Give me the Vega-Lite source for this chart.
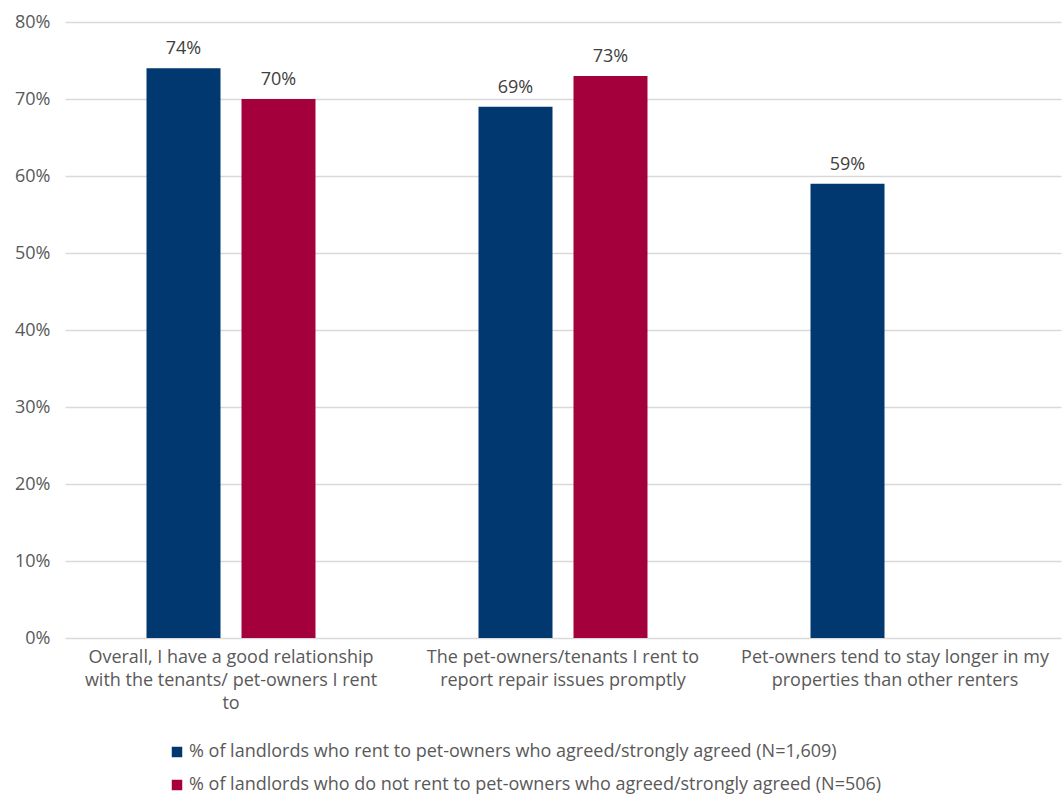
{
  "$schema": "https://vega.github.io/schema/vega-lite/v6.json",
  "width": 996,
  "height": 616,
  "autosize": {"type": "none"},
  "padding": {"left": 65, "top": 22, "right": 1, "bottom": 163},
  "background": "white",
  "config": {
    "view": {"stroke": null},
    "font": "Open Sans",
    "axis": {"labelFont": "Open Sans", "labelColor": "#595959"},
    "legend": {"labelFont": "Open Sans"}
  },
  "data": {
    "values": [
      {"statement": "Overall, I have a good relationship|with the tenants/ pet-owners I rent|to", "group": "% of landlords who rent to pet-owners who agreed/strongly agreed (N=1,609)", "value": 0.74},
      {"statement": "Overall, I have a good relationship|with the tenants/ pet-owners I rent|to", "group": "% of landlords who do not rent to pet-owners who agreed/strongly agreed (N=506)", "value": 0.70},
      {"statement": "The pet-owners/tenants I rent to|report repair issues promptly", "group": "% of landlords who rent to pet-owners who agreed/strongly agreed (N=1,609)", "value": 0.69},
      {"statement": "The pet-owners/tenants I rent to|report repair issues promptly", "group": "% of landlords who do not rent to pet-owners who agreed/strongly agreed (N=506)", "value": 0.73},
      {"statement": "Pet-owners tend to stay longer in my|properties than other renters", "group": "% of landlords who rent to pet-owners who agreed/strongly agreed (N=1,609)", "value": 0.59},
      {"statement": "Pet-owners tend to stay longer in my|properties than other renters", "group": "% of landlords who do not rent to pet-owners who agreed/strongly agreed (N=506)", "value": null}
    ]
  },
  "encoding": {
    "x": {
      "field": "statement",
      "type": "nominal",
      "sort": null,
      "scale": {"paddingInner": 0, "paddingOuter": 0},
      "axis": {
        "title": null,
        "labelAngle": 0,
        "labelExpr": "split(datum.label, '|')",
        "labelFontSize": 18,
        "labelLineHeight": 23,
        "labelPadding": 10,
        "labelLimit": 400,
        "domain": false,
        "ticks": false
      }
    },
    "xOffset": {
      "field": "group",
      "type": "nominal",
      "sort": null,
      "scale": {"paddingInner": 0.221, "paddingOuter": 0.858}
    },
    "y": {
      "field": "value",
      "type": "quantitative",
      "scale": {"domain": [0, 0.8]},
      "axis": {
        "title": null,
        "format": ".0%",
        "values": [0, 0.1, 0.2, 0.3, 0.4, 0.5, 0.6, 0.7, 0.8],
        "labelFontSize": 18,
        "labelPadding": 15,
        "domain": false,
        "ticks": false,
        "gridColor": "#D9D9D9",
        "gridWidth": 1.5
      }
    }
  },
  "layer": [
    {
      "mark": {"type": "bar"},
      "encoding": {
        "color": {
          "field": "group",
          "type": "nominal",
          "sort": null,
          "scale": {"range": ["#00386F", "#A4003C"]},
          "legend": {
            "title": null,
            "orient": "none",
            "legendX": 103,
            "legendY": 721,
            "direction": "vertical",
            "symbolType": "square",
            "symbolSize": 110,
            "symbolStrokeWidth": 0,
            "labelFontSize": 18,
            "labelColor": "#595959",
            "labelLimit": 900,
            "rowPadding": 15,
            "labelOffset": 3
          }
        }
      }
    },
    {
      "mark": {"type": "text", "dy": -19, "fontSize": 18, "color": "#404040"},
      "encoding": {
        "text": {"field": "value", "type": "quantitative", "format": ".0%"}
      }
    }
  ]
}
